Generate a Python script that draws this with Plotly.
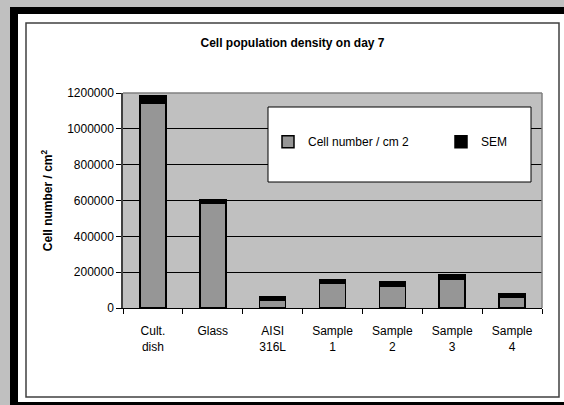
import plotly.graph_objects as go

categories = ["Cult.<br>dish", "Glass", "AISI<br>316L", "Sample<br>1", "Sample<br>2", "Sample<br>3", "Sample<br>4"]
cell_number = [1145000, 585000, 45000, 138000, 119000, 160000, 58000]
sem = [40000, 17000, 18000, 18000, 28000, 28000, 19000]

W, H = 564, 405
L, R, T, B = 123, 542, 93, 308  # plot area in pixels

def px(x):
    return (x - L) / (R - L)

def py(y):
    return (B - y) / (B - T)

FONT = "Arial, Liberation Sans, sans-serif"

fig = go.Figure()
fig.add_trace(go.Bar(x=categories, y=cell_number, name="Cell number / cm 2", legend="legend",
                     marker=dict(color="#969696", line=dict(color="black", width=1.5))))
fig.add_trace(go.Bar(x=categories, y=sem, name="SEM", legend="legend2",
                     marker=dict(color="black", line=dict(color="black", width=1.5))))

shapes = []
def rect(x0, y0, x1, y1, fill=None, line=None, lw=0, layer="below"):
    d = dict(type="rect", xref="paper", yref="paper", x0=px(x0), x1=px(x1), y0=py(y1), y1=py(y0),
             layer=layer, line=dict(width=lw, color=line if line else "rgba(0,0,0,0)"))
    if fill:
        d["fillcolor"] = fill
    shapes.append(d)

# outer frame
rect(0, 0, 10, H, fill="#c0c0c0")
rect(0, 0, W, 7, fill="#c0c0c0")
rect(10, 7, 18, H, fill="black")
rect(10, 7, W, 14, fill="black")
rect(18, 402, W, H, fill="black")
# inner chart box
rect(26, 23, 559, 397, line="#404040", lw=1.5)
# plot area top/right borders
shapes.append(dict(type="line", xref="paper", yref="paper", x0=0, x1=1, y0=1, y1=1,
                   line=dict(color="#808080", width=1.5), layer="above"))
shapes.append(dict(type="line", xref="paper", yref="paper", x0=1, x1=1, y0=0, y1=1,
                   line=dict(color="#808080", width=1.5), layer="above"))
# legend box
rect(268, 107, 531, 182, fill="white", line="black", lw=1, layer="above")

leg_common = dict(orientation="h", xanchor="left", yanchor="middle",
                  bgcolor="rgba(0,0,0,0)", font=dict(size=12), itemwidth=30)

fig.update_layout(
    width=W, height=H,
    margin=dict(l=L, r=W - R, t=T, b=H - B),
    paper_bgcolor="white",
    plot_bgcolor="#c0c0c0",
    barmode="stack",
    bargap=0.565,
    font=dict(family=FONT, size=12, color="black"),
    title=dict(text="<b>Cell population density on day 7</b>", font=dict(size=12),
               xref="container", x=292.5 / W, xanchor="center",
               yref="container", y=1 - 43 / H, yanchor="middle"),
    showlegend=True,
    legend=dict(x=px(268), y=py(141.7), **leg_common),
    legend2=dict(x=px(441), y=py(141.7), **leg_common),
    shapes=shapes,
    xaxis=dict(showline=True, linecolor="black", linewidth=1, ticks="outside", ticklen=5,
               tickcolor="black", tickson="boundaries", showgrid=False,
               ticklabelstandoff=12, fixedrange=True),
    yaxis=dict(range=[0, 1200000], dtick=200000, tickformat="d", showline=True,
               linecolor="#404040", linewidth=1.5, ticks="outside", ticklen=5, tickcolor="black",
               showgrid=True, gridcolor="black", gridwidth=1, zeroline=False,
               title=dict(text="<b>Cell number / cm<sup>2</sup></b>", font=dict(size=12), standoff=12)),
)

fig.write_html("out.html")
